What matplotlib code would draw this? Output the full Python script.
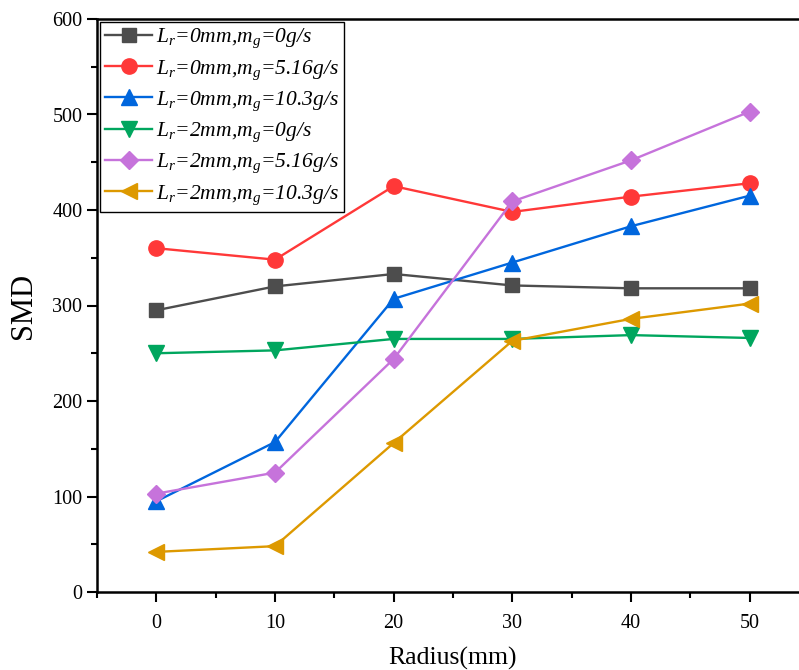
import matplotlib
matplotlib.use("Agg")
import matplotlib.pyplot as plt
from matplotlib.ticker import MultipleLocator

plt.rcParams['font.family'] = ['Liberation Serif', 'DejaVu Serif']
plt.rcParams['mathtext.fontset'] = 'custom'
plt.rcParams['mathtext.it'] = 'Liberation Serif:italic'
plt.rcParams['mathtext.rm'] = 'Liberation Serif'
plt.rcParams['mathtext.default'] = 'it'

radius = [0, 10, 20, 30, 40, 50]
labels = [
    'L$_r$=0mm,m$_g$=0g/s',
    'L$_r$=0mm,m$_g$=5.16g/s',
    'L$_r$=0mm,m$_g$=10.3g/s',
    'L$_r$=2mm,m$_g$=0g/s',
    'L$_r$=2mm,m$_g$=5.16g/s',
    'L$_r$=2mm,m$_g$=10.3g/s',
]
s1 = [295, 320, 333, 321, 318, 318]
s2 = [360, 348, 425, 398, 414, 428]
s3 = [95, 157, 307, 345, 383, 415]
s4 = [250, 253, 265, 265, 269, 266]
s5 = [103, 125, 244, 409, 452, 503]
s6 = [42, 48, 156, 263, 286, 302]
series = [s1, s2, s3, s4, s5, s6]
colors = ['#4D4D4D', '#FF3838', '#0066DD', '#00A65E', '#C673DB', '#DD9900']
markers = ['s', 'o', '^', 'v', 'D', '<']
msizes = [10, 11, 11, 11, 9, 11]

fig = plt.figure(figsize=(7.99, 6.70), dpi=100)
ax = fig.add_axes([97/799, 78/670, 712/799, 573/670])

for y, c, m, ms, lab in zip(series, colors, markers, msizes, labels):
    ax.plot(radius, y, color=c, marker=m, markersize=ms, linewidth=1.7, label=lab)

ax.set_xlim(-5, 55)
ax.set_ylim(0, 600)
ax.xaxis.set_major_locator(MultipleLocator(10))
ax.xaxis.set_minor_locator(MultipleLocator(5))
ax.yaxis.set_major_locator(MultipleLocator(100))
ax.yaxis.set_minor_locator(MultipleLocator(50))
ax.tick_params(which='both', direction='out', width=1.5, labelsize=14.5, top=False, right=False)
ax.tick_params(which='major', length=7)
ax.tick_params(which='minor', length=4)
ax.tick_params(axis='x', pad=9)
for sp in ax.spines.values():
    sp.set_linewidth(1.8)

ax.set_xlabel('Radius(mm)', fontsize=18.5, labelpad=10)
ax.set_ylabel('SMD', fontsize=22, labelpad=10)

leg = ax.legend(loc='upper left', prop={'style': 'italic', 'size': 15.5},
                frameon=True, fancybox=False, edgecolor='black', framealpha=1,
                borderaxespad=0.12, handlelength=2.2, labelspacing=0.36,
                borderpad=0.25, handletextpad=0.15)
leg.get_frame().set_linewidth(1.0)

fig.savefig('out.png', dpi=100)
